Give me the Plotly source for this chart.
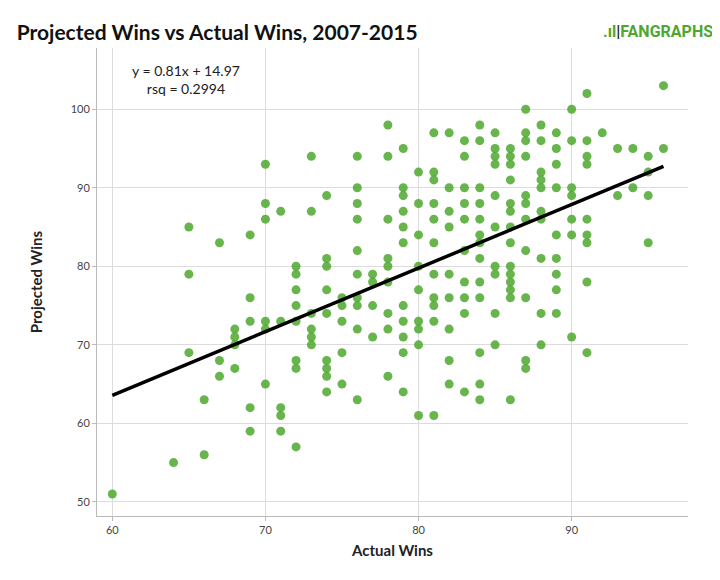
import plotly.graph_objects as go
import numpy as np

cols = {
60:[51],64:[55],65:[85,79,69],66:[63,56],67:[83,68,66],68:[72,71,70,67],
69:[84,76,73,62,59],70:[93,88,86,73,72,65],71:[87,73,62,61,59],
72:[80,79,77,75,73,68,67,57],73:[94,87,74,72,71,70],
74:[89,81,80,77,74,68,67,66,64],75:[76,75,73,69,65],
76:[94,90,88,86,82,79,76,75,72,63],77:[79,78,75,71],
78:[98,94,86,81,80,78,74,72,66],79:[95,90,89,87,85,83,75,73,71,69,64],
80:[92,88,84,80,77,73,72,70,61],81:[97,92,91,88,86,83,79,76,75,73,61],
82:[97,90,87,85,79,76,72,68,65],83:[96,94,90,88,86,82,78,76,74,64],
84:[98,96,90,88,86,84,83,81,78,76,69,65,63],
85:[97,95,94,93,89,85,80,79,74,70],
86:[95,94,93,91,88,87,85,83,80,79,78,77,76,63],
87:[100,97,96,94,89,88,86,82,76,68,67],
88:[98,96,92,91,90,87,86,81,74,70],89:[97,95,93,90,84,81,79,77,74],
90:[100,96,90,89,86,84,71],91:[102,96,94,93,86,84,83,78,69],
92:[97],93:[95,89],94:[95,90],95:[94,92,89,83],96:[103,95]}
actual = [x for x, ys in cols.items() for _ in ys]
projected = [y for ys in cols.values() for y in ys]
slope, intercept = 0.81, 14.97
fit_x = [60, 96]
fit_y = [slope*x + intercept for x in fit_x]

fig = go.Figure()
fig.add_trace(go.Scatter(x=actual, y=projected, mode="markers",
    marker=dict(color="#4ea72e", opacity=0.85, size=9), hoverinfo="skip"))
fig.add_trace(go.Scatter(x=fit_x, y=fit_y, mode="lines", line=dict(color="black", width=3.5)))
fig.update_layout(width=720, height=580, showlegend=False, plot_bgcolor="white", paper_bgcolor="white",
    font=dict(family="Lato, Open Sans, sans-serif", color="#222"),
    margin=dict(l=89, r=40, t=40, b=72, autoexpand=False),
    title=dict(text="<b>Projected Wins vs Actual Wins, 2007-2015</b>", x=0.012, y=0.97, xanchor="left", font=dict(size=21, color="#111")),
    xaxis=dict(title=dict(text="<b>Actual Wins</b>", font=dict(size=15), standoff=10), range=[59.0, 97.6], tickvals=[60,70,80,90],
        gridcolor="#dcdcdc", showline=True, linecolor="#bbb", ticks="outside", ticklen=4, tickcolor="#bbb", tickfont=dict(size=11, color="#444"), zeroline=False, automargin=False),
    yaxis=dict(title=dict(text="<b>Projected Wins</b>", font=dict(size=15), standoff=24), range=[48.2, 107.8], tickvals=[50,60,70,80,90,100],
        gridcolor="#dcdcdc", showline=True, linecolor="#bbb", ticks="outside", ticklen=4, tickcolor="#bbb", tickfont=dict(size=11, color="#444"), zeroline=False, automargin=False),
    annotations=[
        dict(text="y = 0.81x + 14.97<br>rsq = 0.2994", xref="paper", yref="paper", x=0.15, y=0.975, xanchor="center", yanchor="top",
             showarrow=False, align="center", font=dict(size=14, color="#222")),
        dict(text="<b><span style='color:#4ea72e'>.ıl</span><span style='color:#222'>|</span><span style='color:#4ea72e'>FANGRAPHS</span></b>", xref="paper", yref="paper", x=1.045, y=1.06,
             xanchor="right", showarrow=False, font=dict(size=16, family="Roboto, sans-serif")),
    ])
fig.write_html("out.html")
